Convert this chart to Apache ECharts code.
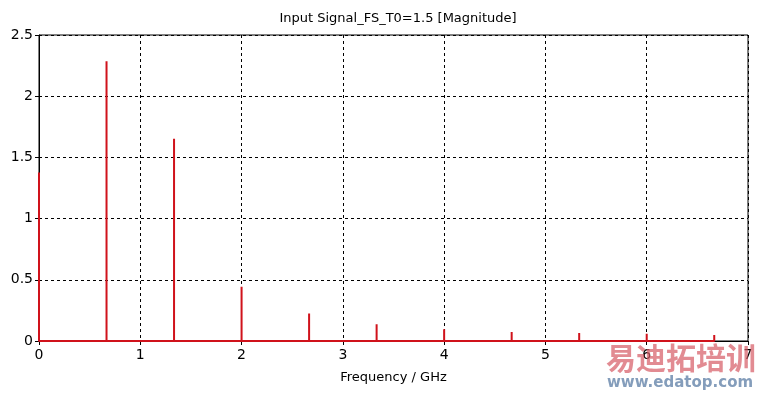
<!DOCTYPE html>
<html><head><meta charset="utf-8">
<script src="https://cdn.jsdelivr.net/npm/echarts@6/dist/echarts.min.js"></script>
<style>html,body{margin:0;padding:0;background:#fff}#c{width:760px;height:395px}</style>
</head><body><div id="c"></div>
<script>
const titleText = "Input Signal_FS_T0=1.5 [Magnitude]";
const xAxisName = "Frequency / GHz";
const freqs = [0, 0.6667, 1.3333, 2.0, 2.6667, 3.3333, 4.0, 4.6667, 5.3333, 6.0, 6.6667];
const mags  = [1.377, 2.285, 1.653, 0.443, 0.225, 0.137, 0.096, 0.074, 0.066, 0.060, 0.049];
const xTicks = [0,1,2,3,4,5,6,7];
const yTicks = [0,0.5,1,1.5,2,2.5];

const pts = [];
freqs.forEach((f,i)=>{ pts.push([f,0]); pts.push([f,mags[i]]); pts.push([f,0]); });

const font = "'DejaVu Sans', sans-serif";
const chart = echarts.init(document.getElementById('c'), null, {renderer:'canvas'});
chart.setOption({
  animation:false,
  backgroundColor:'#fff',
  title:{text:titleText,left:393,top:7,textAlign:'center',textStyle:{fontFamily:font,fontSize:13,fontWeight:'normal',color:'#000'}},
  grid:{left:39,right:12,top:35,bottom:54,show:true,borderColor:'#000',borderWidth:1},
  xAxis:{type:'value',min:0,max:7,interval:1,
    name:xAxisName,nameLocation:'middle',nameGap:30,
    nameTextStyle:{fontFamily:font,fontSize:13,color:'#000'},
    axisLine:{lineStyle:{color:'#000',width:1}},
    axisTick:{show:true,length:4,lineStyle:{color:'#000'}},
    axisLabel:{fontFamily:font,fontSize:14,color:'#000',margin:7,formatter:v=>xTicks.includes(v)?String(v):''},
    splitLine:{show:true,lineStyle:{color:'#000',type:[3,3],width:1}}},
  yAxis:{type:'value',min:0,max:2.5,interval:0.5,
    axisLine:{show:true,lineStyle:{color:'#000',width:1}},
    axisTick:{show:true,length:4,lineStyle:{color:'#000'}},
    axisLabel:{fontFamily:font,fontSize:14,color:'#000',margin:6,formatter:v=>yTicks.includes(v)?String(v):''},
    splitLine:{show:true,lineStyle:{color:'#000',type:[3,3],width:1}}},
  series:[{type:'line',data:pts,symbol:'none',lineStyle:{color:'#d0121b',width:2},z:5}],
  graphic:[
    {type:'text',left:606,top:343,style:{text:'易迪拓培训',font:"bold 30px 'Noto Sans CJK SC'",fill:'rgba(214,90,100,0.7)'},z:100},
    {type:'text',left:607,top:376,style:{text:'www.edatop.com',font:"bold 15px 'DejaVu Sans'",fill:'rgba(110,140,175,0.85)'},z:100}
  ]
});
</script></body></html>
